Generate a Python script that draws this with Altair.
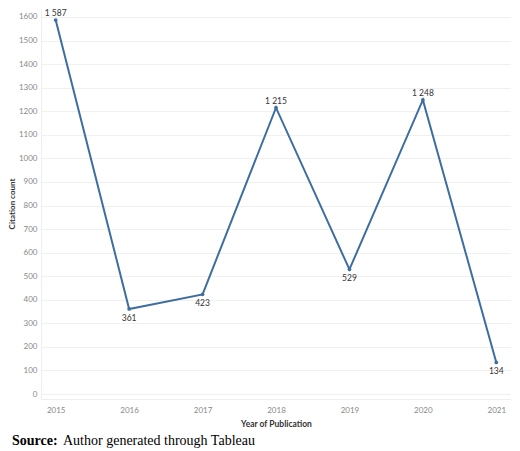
import altair as alt
import pandas as pd

years = ["2015", "2016", "2017", "2018", "2019", "2020", "2021"]
citations = [1587, 361, 423, 1215, 529, 1248, 134]
label_side = ["above", "below", "below", "above", "below", "above", "below"]
y_ticks = list(range(0, 1700, 100))
caption_bold = "Source:"
caption_rest = "Author generated through Tableau"

df = pd.DataFrame({"year": years, "count": citations, "side": label_side})

FONT = "Lato"
LINE = "#3e6da1"

x = alt.X("year:O", title="Year of Publication",
          scale=alt.Scale(type="point", padding=0.2),
          axis=alt.Axis(labelAngle=0, labelColor="#888888", labelFontSize=8,
                        labelFont=FONT, ticks=False, labelPadding=7,
                        titleFont=FONT, titleFontSize=8.5, titleColor="#333333",
                        titleFontWeight="bold", titlePadding=5,
                        domain=True, domainColor="#eeeeee", grid=False))
y = alt.Y("count:Q", title="Citation count",
          scale=alt.Scale(domain=[-21, 1638], nice=False, zero=False),
          axis=alt.Axis(values=y_ticks, format="d", labelColor="#888888",
                        labelFontSize=8, labelFont=FONT, ticks=False,
                        labelPadding=4,
                        titleFont=FONT, titleFontSize=8, titleColor="#333333",
                        titleFontWeight="bold", titlePadding=2,
                        domain=True, domainColor="#eeeeee",
                        grid=True, gridColor="#f0f0f0", gridWidth=1))

base = alt.Chart(df).encode(x=x, y=y)

line = base.mark_line(color=LINE, strokeWidth=2)
pts = base.mark_circle(color=LINE, size=14, opacity=1)

lab = base.transform_calculate(
    lbl="replace(format(datum.count, ','), ',', ' ')"
)
above = lab.transform_filter("datum.side == 'above'").mark_text(
    dy=-7, fontSize=8.5, font=FONT, color="#333333").encode(text="lbl:N")
below = lab.transform_filter("datum.side == 'below'").mark_text(
    dy=9, fontSize=8.5, font=FONT, color="#333333").encode(text="lbl:N")

cap_df = pd.DataFrame({"a": [caption_bold], "b": [caption_rest]})
cap1 = alt.Chart(cap_df).mark_text(
    align="left", baseline="alphabetic", font="Liberation Serif",
    fontSize=14, fontWeight="bold", color="#000000"
).encode(text="a:N", x=alt.value(-29), y=alt.value(437))
cap2 = alt.Chart(cap_df).mark_text(
    align="left", baseline="alphabetic", font="Liberation Serif",
    fontSize=14, color="#000000"
).encode(text="b:N", x=alt.value(22), y=alt.value(437))

chart = alt.layer(line, pts, above, below, cap1, cap2).properties(
    width=470, height=391,
    padding={"left": 0, "top": 0, "right": 0, "bottom": 0},
).configure_view(stroke=None)

chart.save("out.html", embed_options={"renderer": "svg", "actions": False})
